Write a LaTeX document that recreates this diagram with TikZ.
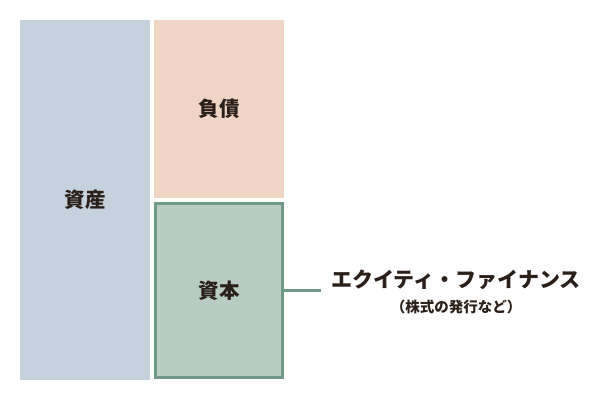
\documentclass[tikz,border=0pt]{standalone}
\usepackage{fontspec}
\usepackage{tikz}
\usetikzlibrary{positioning}
\newfontfamily\jpfont{Noto Sans CJK JP}[BoldFont={Noto Sans CJK JP Black}]
\definecolor{asset}{HTML}{C5D2DE}
\definecolor{debt}{HTML}{F0D5C5}
\definecolor{equityfill}{HTML}{B8CCC3}
\definecolor{equityline}{HTML}{6F9886}
\definecolor{ink}{HTML}{2B1F1A}

\begin{document}
\begin{tikzpicture}[x=1pt,y=-1pt]
    \tikzstyle{block}=[rectangle, inner sep=0pt, minimum width=130pt, text=ink, font=\jpfont\bfseries\fontsize{20.5}{20.5}\selectfont]
    \tikzstyle{label}=[inner sep=0pt, text=ink, font=\jpfont\bfseries]
    \useasboundingbox (0,0) rectangle (600,400);
    \node[block, fill=asset, minimum height=360pt] (asset) at (85,200) {資産};
    \node[block, fill=debt, minimum height=178pt] (debt) at (219,109) {負債};
    \node[block, fill=equityfill, draw=equityline, line width=3pt,
          minimum width=127pt, minimum height=174pt] (equity) at (219,290.5) {資本};
    \coordinate (tip) at (321,290.5);
    \draw[equityline, line width=3pt] (equity.east) -- (tip);
    \node[label, font=\jpfont\bfseries\fontsize{21}{21}\selectfont] (finance) at (456,280) {エクイティ・ファイナンス};
    \node[label, font=\jpfont\bfseries\fontsize{14.5}{14.5}\selectfont, below=10pt of finance] (stock) {（株式の発行など）};
\end{tikzpicture}
\end{document}
